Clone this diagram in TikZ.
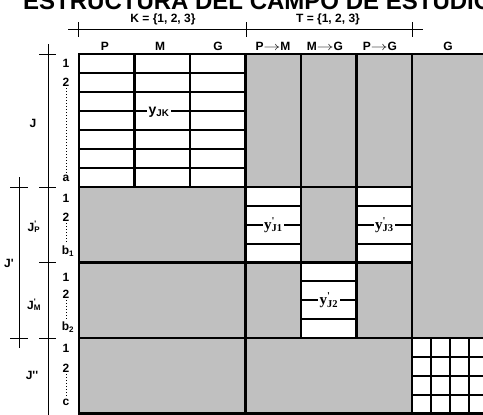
\documentclass[tikz,border=0pt]{standalone}
\usepackage{fontspec}
\setmainfont{Liberation Sans}
\newfontfamily\serifface{Liberation Serif}
\definecolor{cellgray}{RGB}{192,192,192}
\newcommand\primesub[2]{#1\rlap{\textsuperscript{\textquotesingle}}\textsubscript{#2}}
\newcommand\harrow{\scalebox{1.4}[1]{$\rightarrow$}}
\tikzset{
  blockline/.style={line width=2.8pt, line cap=rect},
  cellline/.style={line width=2.2pt},
  braceline/.style={line width=0.8pt},
  lbl/.style={font=\fontsize{12}{14}\selectfont\bfseries, inner sep=1pt},
  ylbl/.style={font=\serifface\fontsize{15}{17}\selectfont\bfseries, fill=white, inner sep=1.5pt},
  rowdots/.style={dotted, line width=1pt, shorten <=1pt, shorten >=1pt}
}
\begin{document}
\begin{tikzpicture}[x=1pt,y=-1pt]
        \useasboundingbox (0,0) rectangle (483,415);
        \clip (0,0) rectangle (483,415);

        % 1. Title (cut off at the top)
        \node[anchor=base west, inner sep=0pt, font=\fontsize{24}{28}\selectfont\bfseries] (title) at (23,9.5) {ESTRUCTURA DEL CAMPO DE ESTUDIO};

        % 2. Gray field and white blocks
        \fill[cellgray] (79,54) rectangle (495,413.5);
        \fill[white] (79,54) rectangle (245.5,187);
        \fill[white] (245.5,187) rectangle (301,262.5);
        \fill[white] (356.5,187) rectangle (412,262.5);
        \fill[white] (301,262.5) rectangle (356.5,338);
        \fill[white] (412,338) rectangle (495,413.5);

        % 3. Cell lines inside the white blocks
        \foreach \i in {1,...,6}
            \draw[cellline] (79,{54+19*\i}) -- (245.5,{54+19*\i});
        \foreach \i in {1,2,3} {
            \draw[cellline] (245.5,{187+18.875*\i}) -- (301,{187+18.875*\i});
            \draw[cellline] (356.5,{187+18.875*\i}) -- (412,{187+18.875*\i});
            \draw[cellline] (301,{262.5+18.875*\i}) -- (356.5,{262.5+18.875*\i});
            \draw[cellline] (412,{338+18.875*\i}) -- (495,{338+18.875*\i});
        }
        \foreach \x in {431,450,469,488}
            \draw[cellline] (\x,338) -- (\x,413.5);

        % 4. Block borders
        \draw[blockline] (79,54) -- (495,54);
        \draw[blockline] (79,187) -- (412,187);
        \draw[blockline] (79,262.5) -- (412,262.5);
        \draw[blockline] (79,338) -- (495,338);
        \draw[blockline] (79,413.5) -- (495,413.5);
        \foreach \x in {79,245.5,412}
            \draw[blockline] (\x,54) -- (\x,413.5);
        \foreach \x in {134.5,190}
            \draw[blockline] (\x,54) -- (\x,187);
        \foreach \x in {301,356.5}
            \draw[blockline] (\x,54) -- (\x,338);

        % 5. Block labels (they break the middle line)
        \node[ylbl, font=\fontsize{14}{16}\selectfont\bfseries] (yJK) at (159,112) {y\textsubscript{JK}};
        \node[ylbl] (yJ1) at (273.25,225) {\primesub{y}{J1}};
        \node[ylbl] (yJ3) at (384.25,225) {\primesub{y}{J3}};
        \node[ylbl] (yJ2) at (328.75,300.5) {\primesub{y}{J2}};

        % 6. Column brackets and headers
        \draw[braceline] (68,29) -- (423,29);
        \foreach \x in {78,246,412}
            \draw[braceline] (\x,22) -- (\x,37);
        \node[lbl] (setK) at (163,19) {K = \{1, 2, 3\}};
        \node[lbl] (setT) at (328,19) {T = \{1, 2, 3\}};
        \node[lbl] (colP) at (105,46) {P};
        \node[lbl] (colM) at (160,46) {M};
        \node[lbl] (colG) at (218,46) {G};
        \node[lbl] (colPM) at (273,46) {P\harrow M};
        \node[lbl] (colMG) at (325,46) {M\harrow G};
        \node[lbl] (colPG) at (380,46) {P\harrow G};
        \node[lbl] (colGG) at (448,46) {G};

        % 7. Row brackets
        \draw[braceline] (48,44) -- (48,415);
        \foreach \y in {54,187,262.5,338}
            \draw[braceline] (39,\y) -- (56,\y);
        \draw[braceline] (19,177) -- (19,348);
        \foreach \y in {187,338}
            \draw[braceline] (10,\y) -- (28,\y);

        % 8. Row labels
        \node[lbl] (J) at (33,123) {J};
        \node[lbl] (JP) at (34,227) {\primesub{J}{P}};
        \node[lbl] (JM) at (34,305) {\primesub{J}{M}};
        \node[lbl] (Jp) at (9,263) {J\textquotesingle};
        \node[lbl] (Jpp) at (32,375) {J\textquotesingle\textquotesingle};

        \node[lbl] (ja1) at (66,63) {1};
        \node[lbl] (ja2) at (66,82) {2};
        \node[lbl] (jaa) at (66,178) {a};
        \node[lbl] (jb1) at (66,198) {1};
        \node[lbl] (jb2) at (66,217) {2};
        \node[lbl] (jbb) at (68,251) {b\textsubscript{1}};
        \node[lbl] (jc1) at (66,277) {1};
        \node[lbl] (jc2) at (66,294) {2};
        \node[lbl] (jcb) at (68,327) {b\textsubscript{2}};
        \node[lbl] (jd1) at (66,348) {1};
        \node[lbl] (jd2) at (66,368) {2};
        \node[lbl] (jdc) at (66,402) {c};

        % 9. Dotted runs between the row numbers
        \draw[rowdots] (ja2.south) -- (jaa.north);
        \draw[rowdots] (jb2.south) -- (jbb.north -| jb2.south);
        \draw[rowdots] (jc2.south) -- (jcb.north -| jc2.south);
        \draw[rowdots] (jd2.south) -- (jdc.north);
    \end{tikzpicture}
\end{document}
